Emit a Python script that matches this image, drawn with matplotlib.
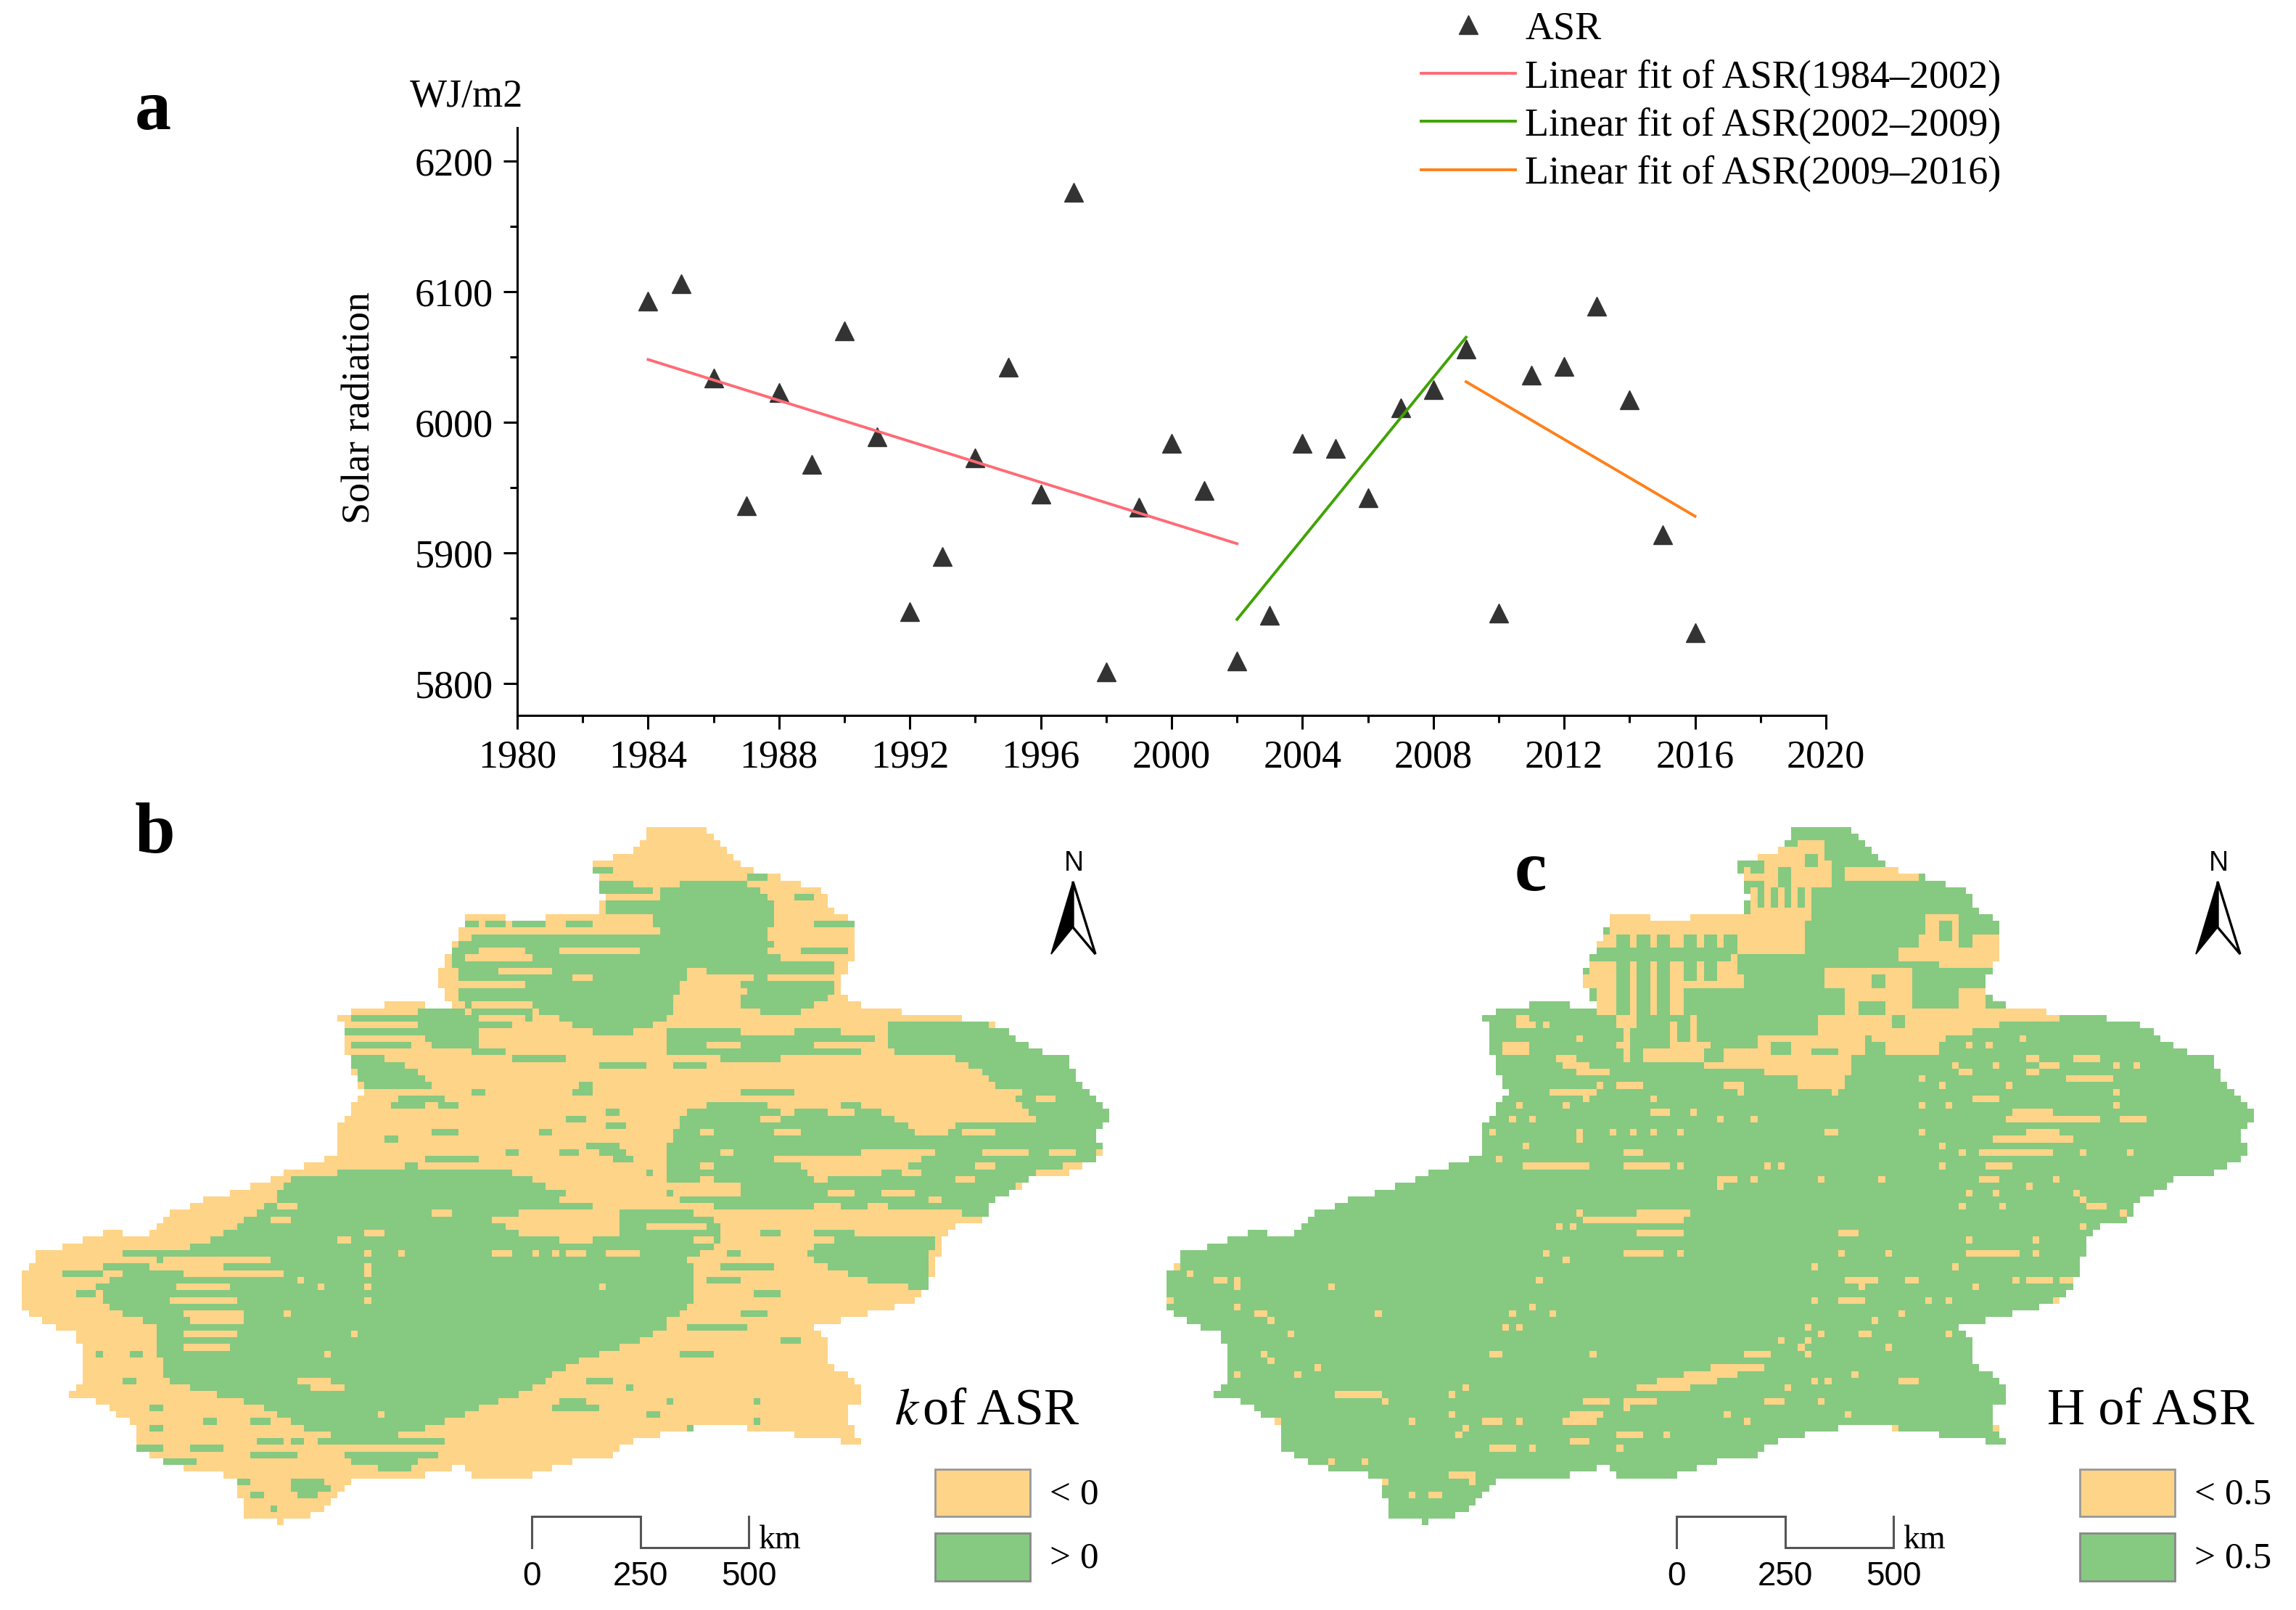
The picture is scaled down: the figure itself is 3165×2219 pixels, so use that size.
import numpy as np
import matplotlib
matplotlib.use("Agg")
import matplotlib.pyplot as plt
from matplotlib.colors import ListedColormap
from matplotlib.path import Path
from matplotlib.patches import Polygon, Rectangle
from matplotlib.ticker import MultipleLocator

plt.rcParams['font.family'] = ['Liberation Serif', 'DejaVu Serif']

W, H = 3165, 2219
YEARS = list(range(1984, 2017))
ASR = [6093, 6106, 6034, 5936, 6023, 5968, 6070, 5989, 5855, 5897, 5973, 6042, 5945, 6176, 5809, 5935, 5984,
       5948, 5817, 5852, 5984, 5980, 5942, 6011, 6025, 6056, 5854, 6036, 6043, 6089, 6017, 5914, 5839]
FIT_1 = ([1984, 2002], [6048, 5907])
FIT_2 = ([2002, 2009], [5849, 6065])
FIT_3 = ([2009, 2016], [6031, 5928])
C_Y, C_G = '#FDD488', '#86C981'

# outline of the region, map b frame
OUTLINE = [(880,50),(945,50),(965,85),(985,105),(1005,135),(1060,155),(1110,178),(1120,210),(1150,240),(1155,275),(1150,320),(1130,365),(1140,385),(1165,405),(1250,418),(1330,430),(1370,460),(1400,490),(1440,495),(1450,530),(1470,570),(1500,615),(1480,650),(1490,680),(1480,700),(1435,730),(1395,735),(1350,770),(1320,820),(1280,830),(1265,890),(1255,930),(1240,970),(1150,1005),(1095,1025),(1120,1040),(1120,1090),(1150,1120),(1170,1160),(1140,1185),(1160,1245),(1110,1240),(1040,1220),(960,1212),(900,1225),(840,1250),(825,1270),(780,1280),(710,1310),(640,1310),(620,1290),(570,1310),(540,1320),(470,1320),(430,1380),(380,1400),(330,1385),(320,1330),(310,1310),(230,1290),(185,1260),(180,1210),(130,1165),(85,1150),(115,1130),(105,1040),(60,1010),(35,1000),(25,940),(50,880),(100,860),(150,835),(200,850),(230,800),(290,770),(350,745),(400,715),(455,690),(460,630),(490,570),(470,510),(465,440),(445,430),(490,405),(550,395),(590,405),(610,400),(590,350),(610,290),(630,225),(650,220),(690,235),(810,225),(815,190),(800,130),(860,100)]

GREEN_POLYS_B = [
 [(130,940),(230,880),(290,850),(370,780),(390,735),(550,710),(680,720),(760,760),(800,790),(920,790),(970,820),(970,860),(930,890),(940,970),(880,1040),(780,1090),(700,1150),(610,1200),(540,1230),(470,1240),(410,1215),(340,1170),(230,1130),(210,1070),(210,1020),(150,990)],
 [(720,370),(800,320),(880,280),(890,180),(940,155),(1010,165),(1050,210),(1040,270),(1060,320),(1130,310),(1130,380),(1060,430),(1000,400),(1000,350),(930,330),(900,430),(820,465),(760,430),(720,410)],
 [(610,300),(640,262),(880,262),(880,280),(720,370),(720,430),(650,450),(620,380)],
 [(560,405),(620,405),(650,440),(640,490),(590,490),(570,460)],
 [(470,500),(540,505),(590,565),(490,560)],
 [(1200,435),(1330,435),(1440,500),(1500,620),(1480,700),(1400,720),(1320,815),(1290,795),(980,795),(900,770),(900,680),(930,600),(1020,580),(1060,610),(1160,590),(1240,640),(1400,620),(1300,530),(1200,500)],
 [(900,440),(1190,450),(1150,510),(1000,510),(900,525)],
 [(1090,870),(1150,840),(1260,850),(1250,950),(1170,930),(1100,900)],
 [(780,665),(830,670),(865,705),(840,705)],
 [(390,1320),(430,1310),(450,1330),(420,1355),(395,1345)],
]
YELLOW_POLYS_B = [
 [(1200,490),(1300,505),(1370,580),(1400,625),(1250,600),(1205,570)],
 [(1000,510),(1150,510),(1170,570),(1070,600),(1000,560)],
 [(1060,690),(1270,680),(1210,720),(1100,740)],
 [(900,745),(1000,738),(1000,765),(910,770)],
 [(660,815),(740,790),(830,800),(840,840),(780,860),(700,840)],
 [(925,330),(1000,345),(1000,400),(930,420)],
]
# speckle runs: x0, y, x1
Y_RUNS_B = [(650,290,700),(630,315,710),(680,340,740),(620,365,700),(640,395,710),(650,420,700),(780,350,800),(760,290,860),(730,262,880),
 (240,940,300),(230,965,310),(250,990,320),(260,1015,320),(250,1040,310),(250,1065,300),(220,890,360),(210,905,300),(250,915,380),(380,790,400),(370,815,390),
 (590,800,610),(460,852,470),(495,845,510),(500,880,500),(500,900,500),(500,920,500),(500,945,500),(500,970,500),(540,880,540),(670,880,690),(720,880,720),(750,880,750),(770,880,790),(820,885,860),
 (410,935,410),(435,945,435),(390,995,390),(475,1030,475),(445,1068,445),(815,940,815),(900,1005,900),(410,1125,450),(420,1140,460),(510,1197,510),
 (760,770,790),(830,760,860),(760,800,830),(930,790,960),(880,830,950),(940,860,960),(590,710,610),
 (930,345,1010),(950,370,1000),(1040,345,1120),(1040,290,1130),(1040,255,1060),(1090,220,1110),(920,425,1060),(1000,450,1060),(1100,480,1180),(1060,510,1180),(1140,455,1190),(960,480,1000),(900,500,960),(820,515,900),
 (1050,650,1080),(1030,620,1050),(1120,610,1150),(1240,640,1280),(1300,650,1340),(1330,680,1380),(1320,710,1340),(1290,740,1310),(1260,770,1270),(1050,700,1090),(1120,760,1150),(1180,790,1200),(950,650,960),(980,680,990),(950,710,960),
 (1400,580,1420),(1420,680,1450),(1370,570,1380),(1190,760,1230),(1220,720,1240),(1100,785,1130),(950,740,960)]
G_RUNS_B = [(805,135,825),(810,165,850),(815,180,880),(820,200,890),(820,215,880),(1010,150,1030),(1080,190,1100),(1100,240,1145),(1090,300,1145),
 (630,245,640),(660,245,680),(700,250,740),(770,240,800),
 (540,580,590),(530,600,570),(600,590,620),(520,655,530),(590,640,620),(640,570,650),(780,570,800),(820,630,840),(770,620,790),(820,610,830),(790,560,800),(580,700,640),(690,690,700),(730,650,740),(760,680,780),
 (480,430,560),(470,455,560),(480,480,550),(640,495,680),(810,515,860),(700,500,760),(880,720,880),(1000,570,1060),
 (85,915,130),(140,900,180),(170,880,230),(110,960,130),(1000,1000,1030),(930,1020,1000),(925,1070,960),(1060,1050,1080),(1020,960,1050),(960,930,1000),(980,900,1040),(1030,840,1050),(1100,840,1140),(990,880,1000),
 (750,1180,800),(760,1170,790),(930,1212,940),(850,1140,850),(795,1120,820),(1020,1165,1020),(1020,1200,1020),(880,1190,890),(900,1170,900),
 (470,1265,590),(480,1280,560),(510,1300,550),(430,1240,590),(190,1250,220),(210,1220,215),(220,1280,260),(260,1260,300),(340,1270,390),(350,1240,380),(180,1070,190),(170,1130,180),(130,1080,130),(210,1180,220),(320,1325,330),(340,1350,350),(370,1370,370),(400,1240,410),(280,1200,290),(340,1205,360)]

Y_RECTS_C = [(835,108,930,125),(905,85,935,108),(860,125,945,165),(835,135,860,150),(965,145,1055,155),
 (650,235,830,260),(825,230,905,290),(635,265,800,290),(625,310,810,345),(620,345,825,360),(640,360,750,410),(660,410,680,435),
 (1080,230,1120,270),(1040,290,1170,305),(1070,270,1165,290),(1090,315,1170,325),
 (945,330,1050,350),(975,350,1045,380),(965,380,1045,415),(930,420,1020,440),(1050,410,1170,430),(1100,440,1130,450),(1120,380,1150,400),
 (960,440,985,490),(1000,455,1090,470),(1020,480,1080,490),(850,460,915,505),(700,490,850,500),(740,480,780,510),(780,500,860,515),(860,510,970,530),(905,525,960,545),(920,460,950,468),(1170,410,1250,425),
 (840,180,842,230),(858,180,860,230),(880,180,882,230),(900,180,902,225),(912,180,914,230),(840,215,905,225),(670,440,672,500),(735,440,737,480),(765,420,767,490)]
G_RECTS_C = [(660,265,668,410),(690,265,698,410),(720,265,728,410),(750,265,758,345),(780,265,788,345),(630,295,810,305),(840,125,850,135),(880,135,890,165),(915,110,925,125),(1095,240,1105,262),(1120,275,1130,285),(1000,350,1010,365),(985,395,1015,405),(865,475,880,485),(780,495,800,505)]
Y_RUNS_C = [(510,490,540),(540,420,540),(525,420,525),(560,440,560),(605,465,605),(665,480,665),(590,515,620),(610,525,650),(570,570,620),(660,560,690),(640,550,640),(710,580,710),(710,610,730),(520,620,520),(550,620,550),(590,600,590),(530,590,530),(620,580,620),(760,605,760),(795,620,795),(845,620,845),(490,650,490),(605,650,605),(605,665,605),(650,640,650),(680,640,680),(705,645,705),(745,650,745),(535,675,535),(500,700,500),(540,710,625),(670,690,685),(670,705,720),(745,710,745),(860,705,860),(880,705,880),(800,735,820),(800,748,800),(840,740,840),(935,740,935),(1010,740,1010),(945,640,945),(950,650,950),(755,800,755),(610,800,610),(620,818,670),(690,800,745),(680,818,745),(690,845,745),(580,830,580),(600,830,600),(955,835,975),(565,880,565),(595,890,595),(675,878,720),(745,880,745),(925,900,925),(960,885,960),(1020,880,1020),(970,928,1005),(990,950,990),(955,970,985),(925,972,925),(1050,930,1060),(1040,990,1040),(1075,975,1075),(1100,965,1100),(1110,900,1110),(1130,885,1190),(1215,880,1215),(1130,855,1130),(1220,855,1220),(1140,945,1140),(1210,925,1240),(1195,935,1195),(1255,925,1270),(1245,970,1245),(1100,1030,1100),(1005,1015,1005),(990,1040,1000),(1020,1060,1020),(915,1025,915),(915,1050,915),(915,1070,915),(935,1030,935),(875,1050,875),(905,1065,905),
 (690,1140,750),(720,1125,790),(750,1110,810),(790,1095,850),(830,1080,855),(670,1165,710),(675,1180,675),(600,1185,640),(620,1170,650),(590,1210,630),(600,1240,620),(660,1235,690),(860,1165,880),(925,1125,925),(940,1125,940),(975,1110,975),(1040,1130,1060),(885,1135,885),(810,1195,810),(835,1200,835),(930,1170,930),(965,1190,965),(1030,1215,1030),(1165,1215,1165),(725,1235,725),(665,1260,665),(525,1198,525),(480,1198,495),(385,1198,385),(440,1190,440),(445,1225,445),(460,1215,460),(490,1250,520),(545,1260,545),(285,1152,335),(345,1160,345),(460,1135,460),(440,1150,440),(260,1105,260),(235,1115,235),(185,1070,185),(195,1085,195),(225,1035,225),(180,1000,190),(195,1015,195),(335,995,335),(275,940,275),(150,935,150),(150,950,150),(120,930,120),(135,930,135),(85,915,85),(70,905,70),(65,975,65),(150,985,150),(150,1115,150),(205,1205,205),(320,1275,320),(280,1285,280),(345,1320,345),(380,1350,380),(410,1350,420),(440,1310,470),(465,1325,465),(205,1235,205),
 (525,1025,525),(510,1020,510),(550,985,550),(520,1000,520),(575,995,575),(495,1078,505),(625,1068,625),(555,930,555),
 (1110,515,1110),(1125,530,1125),(1170,520,1170),(1210,510,1220),(1210,530,1220),(1230,515,1250),(1270,500,1300),(1265,540,1320),(1325,520,1325),(1355,520,1355),(1090,555,1090),(1130,535,1130),(1140,575,1170),(1180,555,1180),(1105,590,1105),(1205,465,1205),(1160,480,1160),(1130,480,1130),(1065,545,1065),(1070,600,1070),(1070,650,1070),(1095,668,1095),(1180,620,1300),(1340,620,1370),(1195,610,1240),(1210,640,1250),(1150,680,1240),(1170,665,1270),(1170,690,1200),(1160,710,1190),(1240,690,1240),(1280,690,1280),(1345,688,1345),(1120,690,1120),(1090,715,1090),(1150,735,1170),(1130,760,1130),(1170,760,1170),(1210,755,1210),(1250,740,1250),(1270,760,1270),(1285,775,1285),(1125,790,1125),(1175,795,1175),(1290,795,1310),(1335,800,1335),(1285,828,1285),(1330,600,1330),(1330,570,1330),(805,550,820),(820,565,820),(950,570,950),(530,440,545),(510,475,540),(580,505,600)]

CELL = 9.25
BX = lambda z: np.asarray(z, float) * 1.0204
CX = lambda z: 1550 + np.asarray(z, float) * 1.03
ZY = lambda z: 1100 + np.asarray(z, float) * 0.7136
SHIFT = 1578

fig = plt.figure(figsize=(W / 100, H / 100), dpi=100)

# panel a ---------------------------------------------------------------
ax = fig.add_axes([713 / W, 1 - 986 / H, (2517 - 713) / W, (986 - 176) / H])
ax.plot(YEARS, ASR, ls='none', marker='^', ms=18.5, mfc='#333333', mec='#333333', label='ASR', zorder=3)
ax.plot(*FIT_1, color='#FF6B75', lw=2.8, label='Linear fit of ASR(1984–2002)', zorder=4)
ax.plot(*FIT_2, color='#3FA300', lw=2.8, label='Linear fit of ASR(2002–2009)', zorder=4)
ax.plot(*FIT_3, color='#FF8019', lw=2.8, label='Linear fit of ASR(2009–2016)', zorder=4)
ax.set_xlim(1980, 2020)
ax.set_ylim(5775.5, 6225.5)
ax.xaxis.set_major_locator(MultipleLocator(4))
ax.xaxis.set_minor_locator(MultipleLocator(2))
ax.yaxis.set_major_locator(MultipleLocator(100))
ax.yaxis.set_minor_locator(MultipleLocator(50))
ax.tick_params(which='major', length=14, width=2.2, labelsize=39, pad=10)
ax.tick_params(which='minor', length=7.5, width=2.2)
for s in ('top', 'right'):
    ax.spines[s].set_visible(False)
for s in ('left', 'bottom'):
    ax.spines[s].set_linewidth(2.2)
ax.patch.set_alpha(0)
fig.legend(*ax.get_legend_handles_labels(), loc='upper left', bbox_to_anchor=(1948 / W, 1 - 4 / H),
           frameon=False, fontsize=39, labelspacing=0.29, handlelength=2.4, handletextpad=0.25,
           borderpad=0.2, borderaxespad=0)

# overlay in pixel coordinates -----------------------------------------
ov = fig.add_axes([0, 0, 1, 1])
ov.set_xlim(0, W)
ov.set_ylim(H, 0)
ov.axis('off')
ov.patch.set_alpha(0)
ov.text(496, 562, 'Solar radiation', rotation=90, ha='center', va='center', fontsize=39)
ov.text(565, 134, 'WJ/m2', ha='left', va='center', fontsize=39)
ov.text(186, 178, 'a', fontsize=72, fontweight='bold', ha='left', va='baseline')
ov.text(186, 1175, 'b', fontsize=72, fontweight='bold', ha='left', va='baseline')
ov.text(2088, 1227, 'c', fontsize=72, fontweight='bold', ha='left', va='baseline')


def paint(grid, x0, y0, px, py, cls):
    ix = int(round((px - x0) / CELL))
    iy = int(round((py - y0) / CELL))
    if 0 <= iy < grid.shape[0] and 0 <= ix < grid.shape[1]:
        grid[iy, ix] = cls


def draw_map(offset, base, polys_a, cls_a, polys_b, cls_b, paint_fn):
    out = np.column_stack([BX([p[0] for p in OUTLINE]) + offset, ZY([p[1] for p in OUTLINE])])
    x0, y0 = out[:, 0].min() - CELL, out[:, 1].min() - CELL
    nx = int((out[:, 0].max() - x0) / CELL) + 3
    ny = int((out[:, 1].max() - y0) / CELL) + 3
    xc, yc = np.meshgrid(x0 + np.arange(nx) * CELL, y0 + np.arange(ny) * CELL)
    pts = np.column_stack([xc.ravel(), yc.ravel()])
    grid = np.full((ny, nx), base, float)
    for polys, cls in ((polys_a, cls_a), (polys_b, cls_b)):
        for poly in polys:
            v = np.column_stack([BX([p[0] for p in poly]) + offset, ZY([p[1] for p in poly])])
            grid[Path(v).contains_points(pts).reshape(ny, nx)] = cls
    paint_fn(grid, x0, y0)
    grid[~Path(out).contains_points(pts).reshape(ny, nx)] = np.nan
    ov.imshow(np.ma.masked_invalid(grid), cmap=ListedColormap([C_Y, C_G]), vmin=0, vmax=1,
              extent=(x0 - CELL / 2, x0 + (nx - .5) * CELL, y0 + (ny - .5) * CELL, y0 - CELL / 2),
              interpolation='nearest', aspect='auto', zorder=1)
    ov.set_xlim(0, W)
    ov.set_ylim(H, 0)


def runs(grid, x0, y0, items, fx, cls):
    for a, y, b in items:
        xa, xb = float(fx(a)), float(fx(b))
        n = max(0, int(round((xb - xa) / CELL)))
        for k in range(n + 1):
            paint(grid, x0, y0, xa + k * CELL, float(ZY(y)), cls)


def paint_b(grid, x0, y0):
    runs(grid, x0, y0, Y_RUNS_B, BX, 0)
    runs(grid, x0, y0, G_RUNS_B, BX, 1)


def paint_c(grid, x0, y0):
    for rects, cls in ((Y_RECTS_C, 0), (G_RECTS_C, 1)):
        for a, b, c, d in rects:
            xa, xb, ya, yb = float(CX(a)), float(CX(c)), float(ZY(b)), float(ZY(d))
            for j in range(max(0, int(round((yb - ya) / CELL))) + 1):
                for k in range(max(0, int(round((xb - xa) / CELL))) + 1):
                    paint(grid, x0, y0, xa + k * CELL, ya + j * CELL, cls)
    runs(grid, x0, y0, Y_RUNS_C, CX, 0)


draw_map(0, 0, GREEN_POLYS_B, 1, YELLOW_POLYS_B, 0, paint_b)
draw_map(SHIFT, 1, [], 1, [], 1, paint_c)

for off, title, lab1, lab2 in ((0, None, '< 0', '> 0'), (SHIFT, 'H of ASR', '< 0.5', '> 0.5')):
    # north arrow
    ov.add_patch(Polygon([(1479 + off, 1215), (1449 + off, 1315), (1479 + off, 1278)], fc='black', ec='black', lw=1.2, zorder=3))
    ov.add_patch(Polygon([(1479 + off, 1215), (1510 + off, 1315), (1479 + off, 1278)], fc='white', ec='black', lw=2.4, zorder=3))
    ov.text(1480 + off, 1190, 'N', ha='center', va='center', fontsize=27, family='Liberation Sans')
    # scale bar
    ov.plot(np.array([733, 733, 883, 883, 1032, 1032]) + off, [2133, 2090, 2090, 2133, 2133, 2090],
            color='#555555', lw=2.2, solid_joinstyle='miter', zorder=3)
    for xt, s in ((733, '0'), (883, '250'), (1032, '500')):
        ov.text(xt + off, 2173, s, ha='center', va='center', fontsize=33, family='Liberation Sans')
    ov.text(1045 + off, 2134, 'km', ha='left', va='baseline', fontsize=33)
    # colour key
    ov.add_patch(Rectangle((1289 + off, 2025), 131, 65, fc=C_Y, ec='#999999', lw=2, zorder=3))
    ov.add_patch(Rectangle((1289 + off, 2113), 131, 66, fc=C_G, ec='#888888', lw=2, zorder=3))
    ov.text(1447 + off, 2060, lab1, ha='left', va='center', fontsize=37)
    ov.text(1447 + off, 2148, lab2, ha='left', va='center', fontsize=37)
    if title:
        ov.text(2822, 1963, title, ha='left', va='baseline', fontsize=52)
ov.text(1233, 1963, '$\\mathit{k}$', ha='left', va='baseline', fontsize=52, math_fontfamily='stix')
ov.text(1272, 1963, 'of ASR', ha='left', va='baseline', fontsize=52)

fig.savefig('out.png', dpi=100, facecolor='white')
